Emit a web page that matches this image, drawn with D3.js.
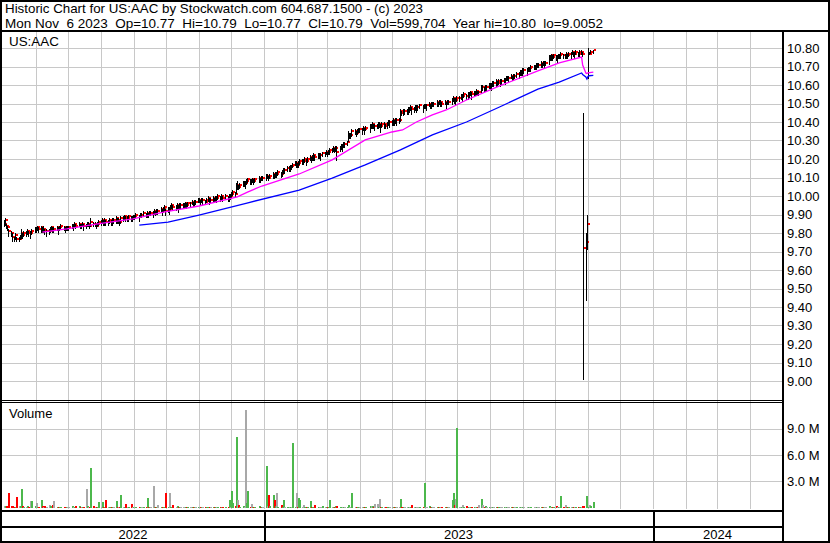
<!DOCTYPE html>
<html>
<head>
<meta charset="utf-8">
<title>Historic Chart for US:AAC</title>
<script src="https://d3js.org/d3.v7.min.js"></script>
<style>
  body { margin: 0; background: #fff; }
  svg { display: block; font-family: "Liberation Sans", Arial, sans-serif; }
</style>
</head>
<body>
<svg id="chart" width="830" height="543"></svg>
<script>
// trading days: weekdays from firstDay to lastDay, minus these market holidays
const firstDay = "2022-05-02";
const lastDay = "2023-11-06";
const holidays = ["2022-05-30","2022-06-20","2022-07-04","2022-09-05","2022-11-24","2022-12-26",
  "2023-01-02","2023-01-16","2023-02-20","2023-04-07","2023-05-29","2023-06-19","2023-07-04","2023-09-04"];

// daily close, one line per month
const closes = [
  9.85,9.87,9.84,9.83,9.81, 9.80,9.78,9.77,9.79,9.77, 9.77,9.78,9.80,9.79,9.80, 9.80,9.81,9.80,9.80,9.81, 9.82, // may 22
  9.82,9.83,9.82,9.83,9.82, 9.82,9.81,9.81,9.81,9.82, 9.83,9.82,9.82,9.83,9.82, 9.83,9.84,9.83,9.82,9.83, 9.83, // jun
  9.83,9.84,9.84,9.85,9.84, 9.85,9.84,9.84,9.85,9.84, 9.84,9.85,9.85,9.84,9.86, 9.85,9.85,9.84,9.85,9.86, // jul
  9.86,9.87,9.86,9.87,9.86, 9.86,9.87,9.86,9.87,9.87, 9.88,9.87,9.87,9.86,9.88, 9.88,9.89,9.88,9.88,9.89, 9.88,9.88,9.89, // aug
  9.89,9.90,9.89,9.90,9.90, 9.91,9.90,9.91,9.90,9.91, 9.91,9.91,9.92,9.91,9.92, 9.92,9.93,9.92,9.93,9.94, 9.92, // sep
  9.93,9.93,9.94,9.95,9.94, 9.94,9.95,9.94,9.95,9.95, 9.95,9.95,9.96,9.95,9.96, 9.96,9.97,9.96,9.97,9.97, 9.98, // oct
  9.98,9.97,9.98,9.98,9.97, 9.98,9.99,9.98,9.98,9.99, 9.98,9.99,9.99,10.00,9.99, 10.00,9.99,10.00,9.99,10.00, 10.00, // nov
  10.01,10.02,10.01,10.06,10.06, 10.05,10.06,10.07,10.07,10.07, 10.08,10.09,10.08,10.08,10.09, 10.08,10.09,10.10,10.09,10.10, 10.10, // dec
  10.11,10.11,10.10,10.11,10.12, 10.11,10.12,10.12,10.13,10.12, 10.13,10.14,10.14,10.15,10.15, 10.16,10.16,10.17,10.18,10.18, // jan 23
  10.17,10.18,10.19,10.19,10.19, 10.20,10.19,10.20,10.21,10.20, 10.21,10.22,10.21,10.22,10.22, 10.22,10.23,10.23,10.24, // feb
  10.23,10.24,10.25,10.25,10.26, 10.25,10.26,10.24,10.26,10.27, 10.27,10.28,10.28,10.29,10.33, 10.33,10.33,10.35,10.35,10.34, 10.35,10.36,10.36, // mar
  10.36,10.37,10.36,10.37,10.38, 10.38,10.39,10.38,10.38,10.38, 10.39,10.39,10.38,10.39,10.39, 10.38,10.39,10.40,10.40, // apr
  10.40,10.41,10.40,10.41,10.41, 10.41,10.46,10.45,10.46,10.46, 10.46,10.47,10.47,10.48,10.47, 10.47,10.48,10.48,10.48,10.49, 10.48,10.49, // may
  10.49,10.49,10.50,10.49,10.50, 10.50,10.50,10.51,10.50,10.51, 10.51,10.50,10.51,10.50,10.51, 10.51,10.52,10.53,10.52,10.52, 10.53, // jun
  10.53,10.54,10.54,10.55,10.54, 10.55,10.55,10.56,10.55,10.56, 10.56,10.57,10.56,10.56,10.59, 10.59,10.58,10.59,10.59,10.60, // jul
  10.60,10.60,10.61,10.61,10.62, 10.61,10.62,10.62,10.62,10.63, 10.63,10.64,10.64,10.64,10.65, 10.64,10.65,10.65,10.66,10.66, 10.67,10.67,10.68, // aug
  10.68,10.68,10.69,10.69,10.70, 10.70,10.70,10.71,10.71,10.71, 10.72,10.71,10.72,10.72,10.72, 10.75,10.75,10.76,10.75,10.76, // sep
  10.75,10.75,10.76,10.76,10.77, 10.76,10.76,10.77,10.76,10.77, 10.77,10.78,10.77,10.77,10.78, 10.77,10.78,10.78,10.77,9.72, 9.75,9.85, // oct
  10.77,10.77,10.78,10.79 // nov
];
// high above close, cents
const upC = [
  2,1,1,1,1, 1,2,1,1,1, 1,1,2,1,1, 1,1,1,1,1, 1,
  1,1,1,1,1, 2,1,1,1,1, 1,1,1,1,1, 1,1,1,1,1, 1,
  1,1,1,1,1, 1,1,1,1,1, 1,1,1,1,2, 1,1,1,1,1,
  1,1,1,1,1, 1,1,1,1,1, 1,1,1,1,1, 1,1,1,1,1, 1,1,1,
  1,1,1,1,1, 1,1,1,1,1, 1,1,1,1,1, 1,1,1,1,1, 1,
  1,1,1,1,1, 1,1,1,1,1, 1,1,1,1,1, 1,1,1,1,1, 1,
  1,1,1,1,1, 1,1,1,1,1, 1,1,1,1,1, 1,1,1,1,1, 1,
  1,1,1,1,2, 1,1,1,1,1, 1,1,1,1,1, 1,1,1,1,1, 1,
  1,1,1,1,1, 1,1,1,1,1, 1,1,1,1,1, 1,1,1,1,1,
  1,1,1,1,1, 1,1,1,1,1, 1,1,1,1,1, 1,1,1,1,
  1,1,1,1,1, 1,1,3,1,1, 1,1,1,1,2, 1,1,1,1,1, 1,1,1,
  1,1,1,1,1, 1,1,1,1,1, 1,1,1,1,1, 1,1,1,1,
  1,1,1,1,1, 1,1,1,1,1, 1,1,1,1,1, 1,1,1,1,1, 1,1,
  1,1,1,1,1, 1,1,1,1,1, 1,1,1,1,1, 1,1,1,1,1, 1,
  1,1,1,1,1, 1,1,1,1,1, 1,1,1,1,1, 1,1,1,1,1,
  1,1,1,1,1, 1,1,1,1,1, 1,1,1,1,1, 1,1,1,1,1, 1,1,1,
  1,1,1,1,1, 1,1,1,1,1, 1,1,1,1,1, 1,1,1,1,1,
  1,1,1,1,1, 1,1,1,1,1, 1,1,1,1,1, 1,1,1,1,73, 5,5,
  3,1,1,0
];
// low below close, cents
const dnC = [
  2,3,2,2,3, 2,3,2,3,2, 2,2,3,2,2, 2,2,2,3,2, 2,
  2,2,2,3,2, 2,2,3,2,2, 2,2,2,2,3, 2,2,2,2,2, 2,
  2,2,3,2,2, 2,2,2,2,3, 2,2,2,2,3, 2,2,2,2,2,
  2,2,2,3,2, 2,2,2,3,2, 3,2,2,2,3, 2,2,2,2,3, 2,2,2,
  2,2,3,2,2, 2,2,3,2,2, 2,3,2,2,2, 2,2,3,2,2, 3,
  2,3,2,2,2, 2,2,3,2,2, 2,2,3,2,2, 2,2,2,3,2, 2,
  2,2,2,3,2, 2,2,3,2,2, 2,2,3,2,2, 2,2,2,2,3, 2,
  2,2,2,5,3, 2,2,2,2,3, 2,2,2,2,2, 2,2,3,2,2, 2,
  3,2,2,2,3, 2,2,2,2,2, 3,2,2,2,2, 3,2,2,2,3,
  2,3,2,2,2, 2,3,2,2,2, 2,3,2,2,2, 3,2,2,2,
  2,2,3,2,2, 2,2,5,2,2, 3,2,2,2,4, 2,2,3,2,2, 2,2,2,
  3,2,3,2,4, 2,3,2,3,2, 3,2,4,2,3, 2,3,2,3,
  2,3,2,2,3, 2,6,2,3,2, 2,3,2,2,3, 2,2,3,2,2, 3,2,
  2,3,2,2,3, 2,2,3,2,2, 3,2,2,3,2, 2,3,2,2,3, 2,
  2,2,3,2,2, 3,2,2,3,2, 2,3,2,2,4, 2,2,3,2,2,
  2,3,2,2,3, 2,2,3,2,2, 3,2,2,3,2, 2,3,2,2,3, 2,2,3,
  2,3,2,2,3, 2,2,3,2,2, 3,2,2,3,2, 4,2,3,2,2,
  2,3,2,2,3, 2,2,3,2,2, 3,2,2,3,2, 2,3,2,2,71.48, 32,14,
  14,1,1,2
];
// volume, thousands of shares
const vols = [
  180,220,150,120,1600, 200,140,110,90,1200, 200,130,2100,160,90, 80,120,70,700,700, 150,
  500,110,90,900,120, 80,150,100,300,120, 90,300,700,100,80, 60,90,70,110,80, 60,
  60,200,80,70,200, 200,90,60,70,80, 2100,120,90,100,4500, 150,80,70,90,600,
  90,600,80,110,900, 70,60,90,80,60, 700,90,80,70,1400, 60,80,400,90,70, 400,60,80,
  80,70,90,60,80, 70,90,1100,80,70, 60,2400,90,80,70, 300,60,90,80,70, 1600,
  70,1700,80,60,300, 70,200,60,50,70, 60,100,50,60,70, 50,60,70,50,60, 100,
  100,60,50,70,60, 50,70,60,80,50, 60,70,50,60,50, 40,60,30,70,800, 90,
  1900,500,150,8000,800, 300,100,120,90,11100, 500,1900,80,400,90, 70,60,200,80,70, 60,
  4700,200,1400,150,1400, 800,120,1700,100,300, 90,800,100,80,90, 100,100,7300,90,1700,
  100,1100,800,80,300, 90,70,60,700,80, 90,60,300,70,60, 80,200,70,60,
  80,70,800,60,90, 70,200,150,100,90, 80,70,60,90,300, 80,70,1600,60,70, 80,60,50,
  60,70,50,80,200, 200,200,60,400,400, 90,1000,60,50,70, 60,50,80,60,
  70,60,80,50,60, 70,1000,90,80,60, 70,50,60,80,300, 60,50,70,60,50, 80,2800,
  90,60,200,70,60, 80,50,60,70,50, 80,60,70,50,60, 70,900,1600,300,1000, 9100,
  60,50,300,70,200, 60,50,80,60,50, 70,60,50,300,1000, 300,60,200,70,50,
  60,50,70,40,60, 50,70,60,50,40, 60,50,100,60,50, 40,60,50,40,60, 50,40,60,
  50,40,60,50,40, 60,50,100,40,50, 40,50,60,40,50, 200,50,40,60,50,
  200,60,50,40,1300, 50,300,60,50,40, 60,50,40,60,50, 40,60,50,200,150, 1300,100,
  100,300,150,600
];

// moving averages
const maFastDates = ["2022-06-07","2022-06-30","2022-07-29","2022-08-31","2022-09-30","2022-11-01","2022-12-07",
  "2022-12-16","2022-12-30","2023-02-03","2023-03-06","2023-04-06","2023-05-01","2023-05-11","2023-05-24",
  "2023-06-08","2023-06-21","2023-07-10","2023-08-10","2023-09-15","2023-10-05","2023-10-26","2023-10-27",
  "2023-10-30","2023-10-31","2023-11-01","2023-11-06"];
const maFastVals = [9.805,9.822,9.849,9.876,9.914,9.946,9.995,10.02,10.054,10.119,10.195,10.303,10.346,10.357,
  10.40,10.438,10.465,10.519,10.595,10.676,10.719,10.751,10.708,10.665,10.662,10.665,10.67];
const maSlowDates = ["2022-09-06","2022-10-03","2022-11-01","2022-12-16","2023-02-03","2023-03-06","2023-04-06",
  "2023-05-09","2023-06-08","2023-07-10","2023-08-10","2023-09-15","2023-10-05","2023-10-26","2023-10-27",
  "2023-10-30","2023-10-31","2023-11-01","2023-11-02","2023-11-06"];
const maSlowVals = [9.843,9.859,9.897,9.962,10.032,10.097,10.168,10.249,10.33,10.40,10.481,10.578,10.616,
  10.665,10.657,10.643,10.632,10.646,10.65,10.652];

const priceTicks = [9.00,9.10,9.20,9.30,9.40,9.50,9.60,9.70,9.80,9.90,10.00,10.10,10.20,10.30,10.40,10.50,10.60,10.70,10.80];
const volTicks = [3e6, 6e6, 9e6];
const years = [2022, 2023, 2024];
const titleLine1 = "Historic Chart for US:AAC by Stockwatch.com 604.687.1500 - (c) 2023";
const titleLine2 = "Mon Nov  6 2023  Op=10.77  Hi=10.79  Lo=10.77  Cl=10.79  Vol=599,704  Year hi=10.80  lo=9.0052";

const parse = d3.timeParse("%Y-%m-%d");
const fmt = d3.timeFormat("%Y-%m-%d");
const holidaySet = new Set(holidays);
const days = d3.timeDay.range(parse(firstDay), d3.timeDay.offset(parse(lastDay), 1))
  .filter(d => d.getDay() !== 0 && d.getDay() !== 6 && !holidaySet.has(fmt(d)));
if ([closes, upC, dnC, vols].some(a => a.length !== days.length))
  throw new Error("length mismatch " + [days.length, closes.length, upC.length, dnC.length, vols.length]);

const bars = days.map((d, i) => ({
  date: d,
  close: closes[i],
  high: closes[i] + upC[i] / 100,
  low: closes[i] - dnC[i] / 100,
  vol: vols[i] * 1000,
  dir: i === 0 ? 0 : Math.sign(Math.round((closes[i] - closes[i - 1]) * 100))
}));

const plotL = 2, plotR = 782;
const x = d3.scaleTime().domain([parse("2023-01-01"), parse("2024-01-01")]).range([264, 653]);
const y = d3.scaleLinear().domain([9.0, 10.8]).range([381, 48]);
const yv = d3.scaleLinear().domain([0, 9e6]).range([507.5, 428.5]);
const px = d => Math.round(x(d));

const svg = d3.select("#chart");
svg.append("rect").attr("width", 830).attr("height", 543).attr("fill", "#fff");

// grid
const grid = svg.append("g").attr("stroke", "#c8c8c8").attr("shape-rendering", "crispEdges");
const months = d3.timeMonth.range(parse("2022-06-01"), parse("2024-05-01"));
grid.selectAll("line.v").data(months).join("line").attr("class", "v")
  .attr("x1", d => px(d) + 0.5).attr("x2", d => px(d) + 0.5)
  .attr("y1", 32).attr("y2", 509);
grid.selectAll("line.hp").data(priceTicks).join("line").attr("class", "hp")
  .attr("x1", plotL).attr("x2", plotR)
  .attr("y1", d => Math.round(y(d)) + 0.5).attr("y2", d => Math.round(y(d)) + 0.5);
grid.selectAll("line.hv").data(volTicks).join("line").attr("class", "hv")
  .attr("x1", plotL).attr("x2", plotR)
  .attr("y1", d => Math.round(yv(d)) + 0.5).attr("y2", d => Math.round(yv(d)) + 0.5);

// price bars: black high-low, red close
const pb = svg.append("g").attr("shape-rendering", "crispEdges")
  .selectAll("g").data(bars).join("g");
pb.append("rect")
  .attr("x", d => px(d.date)).attr("width", 1)
  .attr("y", d => Math.round(y(d.high)))
  .attr("height", d => Math.max(1, Math.round(y(d.low)) - Math.round(y(d.high))))
  .attr("fill", "#000");
pb.append("rect")
  .attr("x", d => px(d.date) + 1).attr("width", 2)
  .attr("y", d => Math.round(y(d.close)) - 1).attr("height", 2)
  .attr("fill", "#ff0000");

// moving averages
const line = d3.line().x(d => x(d[0])).y(d => y(d[1]));
svg.append("path").datum(d3.zip(maFastDates.map(parse), maFastVals))
  .attr("d", line).attr("fill", "none").attr("stroke", "#ff00ff").attr("stroke-width", 1.3);
svg.append("path").datum(d3.zip(maSlowDates.map(parse), maSlowVals))
  .attr("d", line).attr("fill", "none").attr("stroke", "#0000ff").attr("stroke-width", 1.3);

// volume
const volColor = d => d.dir > 0 ? "#4cb84c" : d.dir < 0 ? "#ff0000" : "#a8a8a8";
svg.append("g").attr("shape-rendering", "crispEdges")
  .selectAll("rect").data(bars).join("rect")
  .attr("x", d => px(d.date)).attr("width", 2)
  .attr("y", d => Math.min(507, Math.round(yv(d.vol))))
  .attr("height", d => 508 - Math.min(507, Math.round(yv(d.vol))))
  .attr("fill", volColor);

// frame
const frame = svg.append("g").attr("stroke", "#000").attr("fill", "none").attr("shape-rendering", "crispEdges");
frame.append("rect").attr("x", 1).attr("y", 1).attr("width", 828).attr("height", 541).attr("stroke-width", 2);
frame.append("line").attr("x1", 0).attr("x2", 830).attr("y1", 31).attr("y2", 31).attr("stroke-width", 2);
frame.append("line").attr("x1", 783).attr("x2", 783).attr("y1", 31).attr("y2", 543).attr("stroke-width", 2);
frame.append("line").attr("x1", 0).attr("x2", 783).attr("y1", 400.5).attr("y2", 400.5);
frame.append("line").attr("x1", 0).attr("x2", 783).attr("y1", 402.5).attr("y2", 402.5);
frame.append("line").attr("x1", 0).attr("x2", 783).attr("y1", 510.5).attr("y2", 510.5).attr("stroke-width", 2);
frame.append("line").attr("x1", 0).attr("x2", 783).attr("y1", 526.5).attr("y2", 526.5).attr("stroke-width", 2);
years.slice(1).forEach(yr => {
  const xx = px(parse(yr + "-01-01")) + 0.5;
  frame.append("line").attr("x1", xx).attr("x2", xx).attr("y1", 510).attr("y2", 542).attr("stroke-width", 2);
});

// axes on the right
svg.append("g").attr("transform", "translate(787,0)")
  .call(d3.axisRight(y).tickValues(priceTicks).tickSize(0).tickPadding(0).tickFormat(d3.format(".2f")))
  .call(g => g.select(".domain").remove())
  .attr("font-size", 13).attr("font-family", null);
svg.append("g").attr("transform", "translate(787,0)")
  .call(d3.axisRight(yv).tickValues(volTicks).tickSize(0).tickPadding(0).tickFormat(d => (d / 1e6).toFixed(1) + " M"))
  .call(g => g.select(".domain").remove())
  .attr("font-size", 13).attr("font-family", null);

// year labels, centred on the visible part of each year
svg.append("g").selectAll("text").data(years).join("text")
  .attr("x", yr => {
    const a = Math.max(plotL, x(parse(yr + "-01-01")));
    const b = Math.min(plotR, x(parse((yr + 1) + "-01-01")));
    return (a + b) / 2;
  })
  .attr("y", 539).attr("text-anchor", "middle").attr("font-size", 13)
  .text(yr => yr);

// texts
svg.append("text").attr("x", 5).attr("y", 12.5).attr("font-size", 13)
  .attr("textLength", 418).attr("lengthAdjust", "spacingAndGlyphs")
  .style("white-space", "pre").text(titleLine1);
svg.append("text").attr("x", 5).attr("y", 27.5).attr("font-size", 13)
  .attr("textLength", 598).attr("lengthAdjust", "spacingAndGlyphs")
  .style("white-space", "pre").text(titleLine2);
svg.append("text").attr("x", 9).attr("y", 46).attr("font-size", 13.4).text("US:AAC");
svg.append("text").attr("x", 9).attr("y", 418).attr("font-size", 13).text("Volume");
</script>
</body>
</html>
